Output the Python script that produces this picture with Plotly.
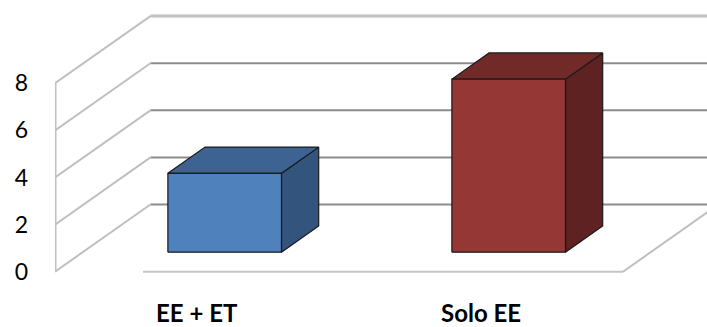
import plotly.graph_objects as go

# Data
categories = ["EE + ET", "Solo EE"]
values = [3.35, 7.35]
y_ticks = [0, 2, 4, 6, 8]

front_colors = ["#4F81BD", "#953735"]
top_colors = ["#3C6391", "#722A29"]
side_colors = ["#33547C", "#5E2222"]

# Oblique projection: depth d in [0, 1] shifts right and up
DX = 0.336      # category units per full depth
DY = 2.853      # value units per full depth
HALF_W = 0.2    # half bar width (category units)
D0, D1 = 0.29, 0.68   # bar depth span


def proj(c, v, d):
    return c + d * DX, v + d * DY


def poly(points):
    xs, ys = zip(*[proj(*p) for p in points])
    return list(xs) + [xs[0]], list(ys) + [ys[0]]


fig = go.Figure()


def line(points, color, width):
    xs, ys = zip(*[proj(*p) for p in points])
    fig.add_trace(go.Scatter(x=xs, y=ys, mode="lines",
                             line=dict(color=color, width=width),
                             hoverinfo="skip", showlegend=False))


left, right = -0.5, len(categories) - 0.5
ymax = y_ticks[-1]

# Back wall gridlines
for v in y_ticks:
    col, w = ("#C0C0C0", 3) if v == ymax else ("#8C8C8C", 2)
    line([(left, v, 1), (right, v, 1)], col, w)

# Side wall lines running into depth
for v in y_ticks:
    line([(left, v, 0), (left, v, 1)], "#BFBFBF", 2)
line([(left, 0, 0), (left, ymax, 0)], "#C0C0C0", 3)

# Floor edges
line([(-0.19, 0, 0), (right, 0, 0)], "#C4C4C4", 2)
line([(right, 0, 0), (right, 0, 1)], "#BFBFBF", 2)

# Bars: side, top, then front face
for i, (cat, val) in enumerate(zip(categories, values)):
    xl, xr = i - HALF_W, i + HALF_W
    faces = [
        ([(xr, 0, D0), (xr, 0, D1), (xr, val, D1), (xr, val, D0)], side_colors[i]),
        ([(xl, val, D0), (xr, val, D0), (xr, val, D1), (xl, val, D1)], top_colors[i]),
        ([(xl, 0, D0), (xr, 0, D0), (xr, val, D0), (xl, val, D0)], front_colors[i]),
    ]
    for pts, col in faces:
        xs, ys = poly(pts)
        fig.add_trace(go.Scatter(x=xs, y=ys, mode="lines", fill="toself",
                                 fillcolor=col,
                                 line=dict(color="#1A1A1A", width=1.2),
                                 hoverinfo="skip", showlegend=False))
    fig.add_annotation(x=i, y=-1.72, text="<b>%s</b>" % cat, showarrow=False,
                       font=dict(family="Lato", size=24, color="#000000"),
                       borderpad=0, xanchor="center", yanchor="middle")

W, H = 707, 327
L = 55
px_per_cat = 284.0
px_per_val = 23.55
zero_px = 271.7

fig.update_layout(
    width=W, height=H,
    margin=dict(l=L, r=0, t=0, b=0),
    paper_bgcolor="white", plot_bgcolor="white",
    xaxis=dict(range=[left, left + (W - L) / px_per_cat], visible=False),
    yaxis=dict(range=[-(H - zero_px) / px_per_val, zero_px / px_per_val],
               tickvals=y_ticks, ticktext=[str(t) for t in y_ticks],
               showgrid=False, zeroline=False, showline=False, ticks="",
               ticklabelstandoff=26,
               tickfont=dict(family="Lato", size=23, color="#000000")),
)

fig.write_html("out.html")
